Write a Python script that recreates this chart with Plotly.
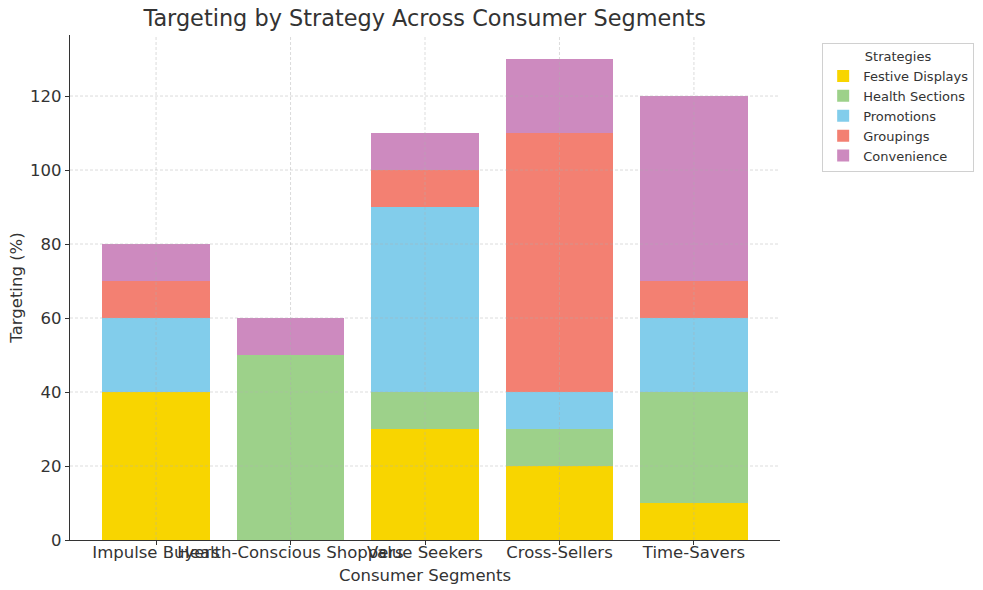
import plotly.graph_objects as go

segments = ["Impulse Buyers", "Health-Conscious Shoppers", "Value Seekers", "Cross-Sellers", "Time-Savers"]
strategies = ["Festive Displays", "Health Sections", "Promotions", "Groupings", "Convenience"]
festive = [40, 0, 30, 20, 10]
health = [0, 50, 10, 10, 30]
promotions = [20, 0, 50, 10, 20]
groupings = [10, 0, 10, 70, 10]
convenience = [10, 10, 10, 20, 50]
colors = ["#F8D500", "#9DD18A", "#82CDEB", "#F38072", "#CD8ABF"]
yticks = [0, 20, 40, 60, 80, 100, 120]

series = [festive, health, promotions, groupings, convenience]
fig = go.Figure()
for name, vals, col in zip(strategies, series, colors):
    fig.add_trace(go.Bar(x=list(range(len(segments))), y=vals, name=name,
                         marker=dict(color=col, line=dict(width=0)), width=0.8))

font = "DejaVu Sans, Verdana, sans-serif"
grid_col = "rgba(175,175,175,0.55)"
shapes = []
for t in yticks[1:]:
    shapes.append(dict(type="line", xref="paper", yref="y", x0=0, x1=1, y0=t, y1=t,
                       line=dict(color=grid_col, width=0.8, dash="3px,2px"), layer="above"))
for i in range(len(segments)):
    shapes.append(dict(type="line", xref="x", yref="paper", x0=i, x1=i, y0=0, y1=1,
                       line=dict(color=grid_col, width=0.8, dash="3px,2px"), layer="above"))

fig.update_layout(
    barmode="stack",
    bargap=0,
    width=983, height=590,
    plot_bgcolor="white", paper_bgcolor="white",
    margin=dict(l=70, r=203, t=35, b=50, autoexpand=False),
    font=dict(family=font, color="#333333", size=16),
    title=dict(text="Targeting by Strategy Across Consumer Segments", x=0.432, xanchor="center",
               y=0.969, yanchor="middle", font=dict(size=22.4, color="#333333")),
    xaxis=dict(range=[-0.64, 4.64], tickmode="array", tickvals=list(range(len(segments))),
               ticktext=segments, tickangle=0, showgrid=False, showline=True, linecolor="#333333",
               linewidth=1.3, ticks="outside", ticklen=4, tickcolor="#333333", automargin=False,
               title=dict(text="Consumer Segments", font=dict(size=16.5), standoff=8),
               tickfont=dict(size=16.5), zeroline=False, ticklabelstandoff=-7),
    yaxis=dict(range=[0, 136.5], tickmode="array", tickvals=yticks, showgrid=False,
               showline=True, linecolor="#333333", linewidth=1.3, ticks="outside", ticklen=4,
               tickcolor="#333333", automargin=False,
               title=dict(text="Targeting (%)", font=dict(size=16.5), standoff=3),
               tickfont=dict(size=16.5), zeroline=False),
    legend=dict(title=dict(text="Strategies", side="top center", font=dict(size=13)),
                font=dict(size=13), x=1.0594, xanchor="left", y=0.984, yanchor="top",
                bordercolor="#d0d0d0", borderwidth=1, traceorder="normal",
                itemsizing="constant", tracegroupgap=0),
    shapes=shapes,
)

fig.write_html("out.html", config={"displayModeBar": False},
               post_script="document.body.style.margin='0';")
